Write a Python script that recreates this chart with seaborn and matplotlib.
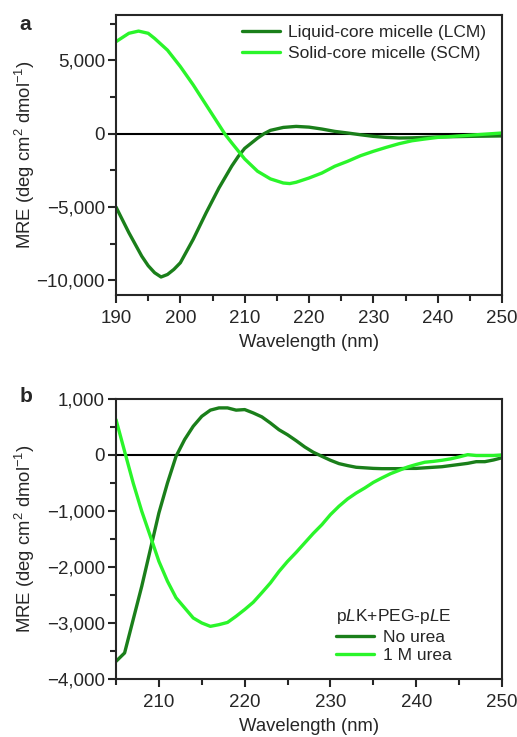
import numpy as np
import pandas as pd
import matplotlib
matplotlib.use("Agg")
import matplotlib.pyplot as plt
import seaborn as sns
from matplotlib.ticker import FuncFormatter, MultipleLocator

# panel a: liquid-core vs solid-core micelle
wl_lcm = [190, 192, 194, 195, 196, 197, 198, 199, 200, 202, 204, 206, 208, 209, 210,
          212, 213, 214, 216, 218, 220, 222, 224, 226, 228, 230, 232, 234, 236, 238,
          240, 245, 250]
mre_lcm = [-5000, -6750, -8350, -9000, -9480, -9770, -9600, -9250, -8800, -7200, -5400,
           -3700, -2200, -1550, -1000, -300, 0, 230, 430, 500, 450, 320, 160, 50, -70,
           -180, -250, -290, -280, -250, -220, -180, -150]
wl_scm = [190, 192, 193.5, 195, 196, 198, 200, 202, 204, 206, 207, 208, 210, 212, 214,
          216, 217, 218, 220, 222, 224, 226, 228, 230, 232, 234, 236, 238, 240, 245, 250]
mre_scm = [6280, 6850, 7000, 6850, 6500, 5700, 4580, 3330, 1970, 610, -70, -630, -1720,
           -2560, -3080, -3360, -3400, -3310, -3020, -2680, -2220, -1880, -1500, -1200,
           -930, -680, -480, -360, -250, -100, 50]

# panel b: pLK+PEG-pLE, no urea vs 1 M urea
wl_b = list(range(205, 251))
mre_nourea = [-3685, -3535, -2940, -2345, -1690, -1035, -500, -24, 275, 512, 690, 800,
              840, 840, 800, 810, 750, 680, 570, 450, 360, 255, 143, 48, -24, -95, -155,
              -190, -220, -230, -240, -245, -245, -245, -240, -240, -230, -220, -210,
              -190, -170, -150, -120, -120, -90, -50]
mre_urea = [630, 65, -500, -1005, -1450, -1900, -2255, -2550, -2730, -2910, -3000, -3060,
            -3030, -2990, -2880, -2760, -2630, -2460, -2285, -2080, -1900, -1740, -1570,
            -1400, -1245, -1065, -915, -785, -680, -590, -490, -410, -335, -275, -215,
            -170, -130, -115, -95, -70, -35, 5, -10, -10, -10, 0]

dark = "#1a7f1a"
light = "#2af52a"

sns.set_style("ticks")
plt.rcParams["font.family"] = ["Liberation Sans", "DejaVu Sans"]
plt.rcParams["mathtext.fontset"] = "custom"
plt.rcParams["mathtext.rm"] = "Liberation Sans"
plt.rcParams["mathtext.it"] = "Liberation Sans:italic"
plt.rcParams["font.size"] = 13.3

fig = plt.figure(figsize=(5.17, 7.37), dpi=100)
ax1 = fig.add_axes([0.2244, 0.5997, 0.7466, 0.380])
ax2 = fig.add_axes([0.2244, 0.0787, 0.7466, 0.380])

fmt = FuncFormatter(lambda v, p: f"{v:,.0f}".replace("-", "\u2212"))
ylab = "MRE (deg cm$^2$ dmol$^{-1}$)"

sns.lineplot(x=wl_lcm, y=mre_lcm, ax=ax1, color=dark, lw=2.4, label="Liquid-core micelle (LCM)")
sns.lineplot(x=wl_scm, y=mre_scm, ax=ax1, color=light, lw=2.4, label="Solid-core micelle (SCM)")
ax1.axhline(0, color="black", lw=1.5, zorder=0)
ax1.set_xlim(190, 250)
ax1.set_ylim(-11000, 8100)
ax1.xaxis.set_major_locator(MultipleLocator(10))
ax1.xaxis.set_minor_locator(MultipleLocator(5))
ax1.yaxis.set_major_locator(MultipleLocator(5000))
ax1.yaxis.set_minor_locator(MultipleLocator(2500))
ax1.legend(loc="upper right", bbox_to_anchor=(1.0, 1.02), frameon=False, handlelength=2.2,
           handletextpad=0.5, labelspacing=0.35, fontsize=12.5)

sns.lineplot(x=wl_b, y=mre_nourea, ax=ax2, color=dark, lw=2.4, label="No urea")
sns.lineplot(x=wl_b, y=mre_urea, ax=ax2, color=light, lw=2.4, label="1 M urea")
ax2.axhline(0, color="black", lw=1.5, zorder=0)
ax2.set_xlim(205, 250)
ax2.set_ylim(-4000, 1000)
ax2.xaxis.set_major_locator(MultipleLocator(10))
ax2.xaxis.set_minor_locator(MultipleLocator(5))
ax2.yaxis.set_major_locator(MultipleLocator(1000))
ax2.yaxis.set_minor_locator(MultipleLocator(500))
ax2.legend(loc="lower left", bbox_to_anchor=(0.53, 0.0), frameon=False,
           title="p$\\it{L}$K+PEG-p$\\it{L}$E", title_fontsize=12.5, fontsize=12.5,
           handlelength=2.2, handletextpad=0.5, labelspacing=0.2, alignment="left")

for ax in (ax1, ax2):
    ax.xaxis.set_major_formatter(fmt)
    ax.yaxis.set_major_formatter(fmt)
    ax.set_xlabel("Wavelength (nm)", labelpad=5)
    ax.set_ylabel(ylab)
    ax.yaxis.set_label_coords(-0.205, 0.5)
    for s in ax.spines.values():
        s.set_linewidth(1.5)
    ax.tick_params(which="major", length=6, width=1.5, labelsize=13.5)
    ax.tick_params(axis="x", which="major", pad=5)
    ax.tick_params(axis="y", which="major", pad=2)
    ax.tick_params(which="minor", length=4, width=1.5)
    ax.tick_params(top=False, right=False)

fig.text(0.038, 0.98, "a", fontsize=15, fontweight="bold", va="top")
fig.text(0.038, 0.475, "b", fontsize=15, fontweight="bold", va="top")

fig.savefig("out.png", dpi=100)
